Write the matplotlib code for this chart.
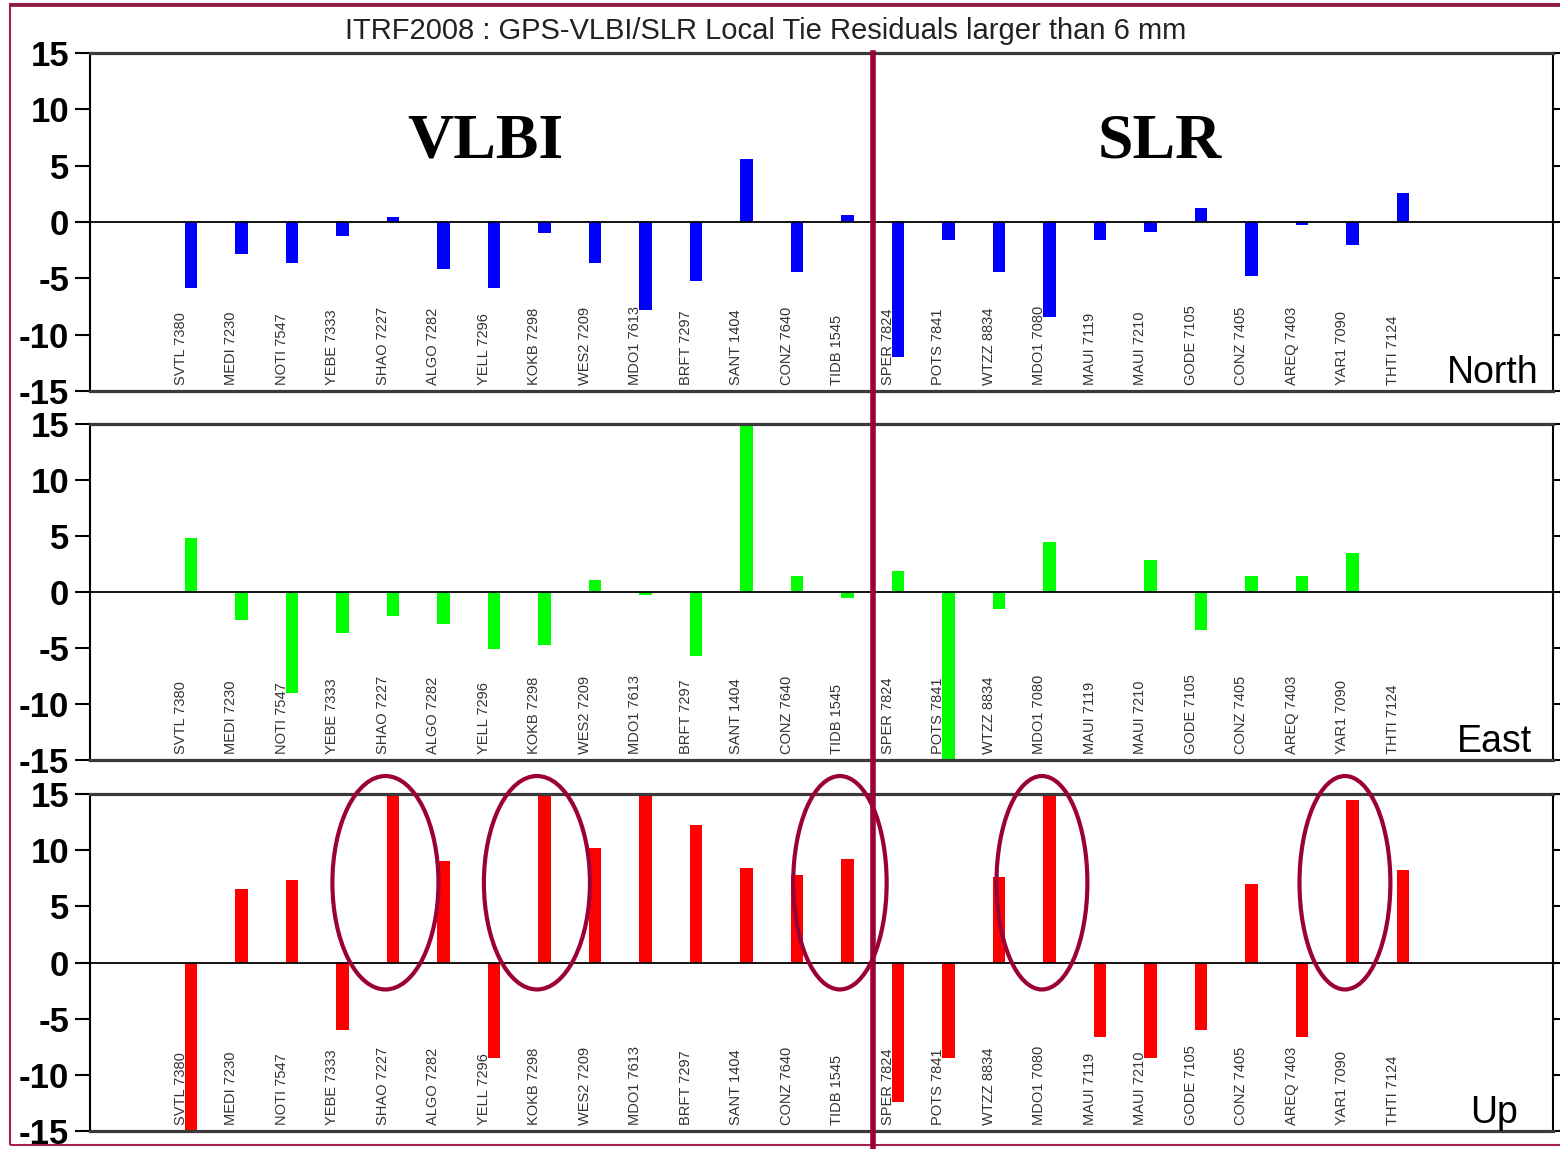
import numpy as np
import matplotlib
matplotlib.use("Agg")
import matplotlib.pyplot as plt
from matplotlib.patches import Ellipse, Rectangle
from matplotlib.lines import Line2D
from matplotlib.transforms import blended_transform_factory

# station names, VLBI first then SLR
stations = ['SVTL 7380', 'MEDI 7230', 'NOTI 7547', 'YEBE 7333', 'SHAO 7227',
            'ALGO 7282', 'YELL 7296', 'KOKB 7298', 'WES2 7209', 'MDO1 7613',
            'BRFT 7297', 'SANT 1404', 'CONZ 7640', 'TIDB 1545',
            'SPER 7824', 'POTS 7841', 'WTZZ 8834', 'MDO1 7080', 'MAUI 7119',
            'MAUI 7210', 'GODE 7105', 'CONZ 7405', 'AREQ 7403', 'YAR1 7090',
            'THTI 7124']
n_vlbi = 14

# residuals in mm
north = [-5.9, -2.8, -3.6, -1.2, 0.4, -4.2, -5.9, -1.0, -3.6, -7.8, -5.2, 5.6, -4.4, 0.6,
         -12.0, -1.6, -4.4, -8.4, -1.6, -0.9, 1.2, -4.8, -0.3, -2.0, 2.6]
east = [4.8, -2.5, -9.0, -3.7, -2.1, -2.9, -5.1, -4.7, 1.1, -0.3, -5.7, 16.0, 1.4, -0.5,
        1.9, -16.0, -1.5, 4.5, 0.0, 2.9, -3.4, 1.4, 1.4, 3.5, 0.0]
up = [-16.0, 6.5, 7.3, -6.0, 16.0, 9.0, -8.5, 16.0, 10.2, 16.0, 12.2, 8.4, 7.8, 9.2,
      -12.4, -8.5, 7.6, 16.0, -6.6, -8.5, -6.0, 7.0, -6.6, 14.5, 8.2]

components = ['North', 'East', 'Up']
colors = ['#0000ff', '#00ff00', '#ff0000']
yticks = [-15, -10, -5, 0, 5, 10, 15]

# stations circled in the Up panel
circled = [4, 7, 13, 17, 23]
circle_w = [2.1, 2.1, 1.85, 1.8, 1.8]

plt.rcParams['axes.unicode_minus'] = False
plt.rcParams['font.family'] = ['Liberation Sans', 'DejaVu Sans']

maroon = '#9b0038'

fig = plt.figure(figsize=(15.6, 11.49), dpi=100)
W, H = 1560.0, 1149.0
panels = [(53, 391), (424, 760), (794, 1131)]
name_x = [0.99, 0.9856, 0.976]
x = np.arange(len(stations))

axes = []
for k, (top, bot) in enumerate(panels):
    ax = fig.add_axes([90 / W, 1 - bot / H, 1463 / W, (bot - top) / H])
    vals = [north, east, up][k]
    ax.bar(x, vals, width=0.24, color=colors[k], zorder=2)
    ax.axhline(0, color='black', lw=1.3, zorder=3)
    ax.set_xlim(-2, 26.97)
    ax.set_ylim(-15, 15)
    ax.set_yticks(yticks)
    ax.set_yticklabels([str(t) for t in yticks], fontsize=25, fontweight='bold')
    ax.set_xticks([])
    ax.tick_params(axis='y', direction='out', length=11, width=1.5, pad=4,
                   right=True, labelright=False)
    for s in ['top', 'bottom']:
        ax.spines[s].set_linewidth(2.3)
        ax.spines[s].set_color('#3a3a3a')
    for s in ['left', 'right']:
        ax.spines[s].set_linewidth(1.5)
    for i, name in enumerate(stations):
        ax.text(i - 0.2, -14.5, name, rotation=90, ha='center', va='bottom',
                fontsize=10.5, color='#333333', zorder=4)
    ax.text(name_x[k], 0.025, components[k], transform=ax.transAxes, ha='right',
            va='baseline', fontsize=27)
    axes.append(ax)

ax_n, ax_e, ax_u = axes

ax_n.text(0.270, 0.735, 'VLBI', transform=ax_n.transAxes, ha='center', va='center',
          fontsize=46, fontweight='bold', family='Liberation Serif')
ax_n.text(0.731, 0.735, 'SLR', transform=ax_n.transAxes, ha='center', va='center',
          fontsize=46, fontweight='bold', family='Liberation Serif')

fig.text(766 / W, 1 - 31 / H, 'ITRF2008 : GPS-VLBI/SLR Local Tie Residuals larger than 6 mm',
         ha='center', va='center', fontsize=21, color='#222222')

# highlight the large Up residuals
for i, w in zip(circled, circle_w):
    ax_u.add_patch(Ellipse((i - 0.15, 7.1), w, 19.0, fill=False, edgecolor=maroon,
                           lw=3, clip_on=False, zorder=5))

# VLBI / SLR separator through all panels
sep = blended_transform_factory(ax_n.transData, fig.transFigure)
fig.add_artist(Line2D([n_vlbi - 0.5, n_vlbi - 0.5], [1 - 53 / H, 0], transform=sep,
                      color=maroon, lw=4, zorder=6))

# slide frame
fig.add_artist(Rectangle((10 / W, 4 / H), 1560 / W, 1141 / H, transform=fig.transFigure,
                         fill=False, edgecolor='#a8204e', lw=1.5))
fig.add_artist(Line2D([10 / W, 1], [1 - 5 / H, 1 - 5 / H], transform=fig.transFigure,
                      color='#8c1a40', lw=2))

fig.savefig('out.png', dpi=100)
